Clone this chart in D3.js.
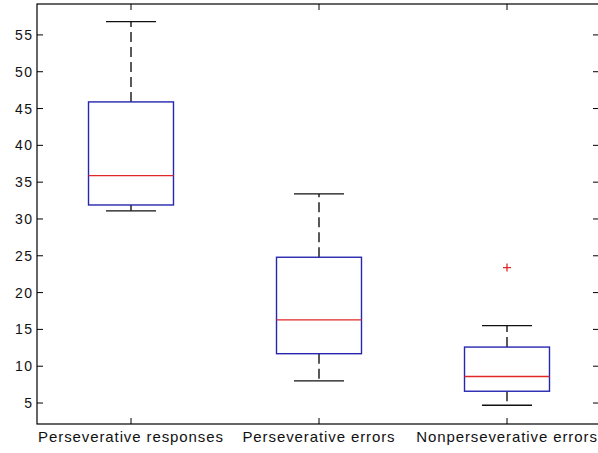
<!DOCTYPE html>
<html>
<head>
<meta charset="utf-8">
<script src="https://cdn.jsdelivr.net/npm/d3@7"></script>
<style>
  body { margin: 0; background: #fff; }
  text { font-family: "Liberation Sans", Arial, sans-serif; fill: #111; }
</style>
</head>
<body>
<svg id="vis" width="598" height="453"></svg>
<script>
// box statistics
let categories = ["Perseverative responses", "Perseverative errors", "Nonperseverative errors"];
let q1 = [31.9, 11.7, 6.6];
let medians = [35.9, 16.3, 8.6];
let q3 = [45.9, 24.8, 12.6];
let whiskerLow = [31.1, 8.0, 4.7];
let whiskerHigh = [56.8, 33.4, 15.5];
let outliers = [[], [], [23.4]];
let yTicks = [5, 10, 15, 20, 25, 30, 35, 40, 45, 50, 55];

let svg = d3.select("#vis");

let plotLeft = 37, plotRight = 601, plotTop = 4, plotBottom = 424;

let x = d3.scaleLinear()
    .domain([0.5, 3.5])
    .range([plotLeft, plotRight]);

let y = d3.scaleLinear()
    .domain([2.15, 59.2])
    .range([plotBottom, plotTop]);

let boxHalf = 0.226, capHalf = 0.133;

// frame
svg.append("rect")
    .attr("x", plotLeft).attr("y", plotTop)
    .attr("width", plotRight - plotLeft).attr("height", plotBottom - plotTop)
    .attr("fill", "none")
    .attr("stroke", "#000")
    .attr("stroke-width", 1.2);

// y ticks, left and right, pointing inward
yTicks.forEach(function (t) {
    svg.append("line")
        .attr("x1", plotLeft).attr("x2", plotLeft + 6)
        .attr("y1", y(t)).attr("y2", y(t))
        .attr("stroke", "#000");
    svg.append("line")
        .attr("x1", plotRight).attr("x2", plotRight - 8)
        .attr("y1", y(t)).attr("y2", y(t))
        .attr("stroke", "#000");
    svg.append("text")
        .attr("x", plotLeft - 3.5)
        .attr("y", y(t) + 5)
        .attr("text-anchor", "end")
        .attr("font-size", "14px")
        .attr("letter-spacing", "1.5px")
        .text(t);
});

categories.forEach(function (c, i) {
    let cx = i + 1;
    // x ticks top and bottom
    svg.append("line")
        .attr("x1", x(cx)).attr("x2", x(cx))
        .attr("y1", plotBottom).attr("y2", plotBottom - 6)
        .attr("stroke", "#000");
    svg.append("line")
        .attr("x1", x(cx)).attr("x2", x(cx))
        .attr("y1", plotTop).attr("y2", plotTop + 6)
        .attr("stroke", "#000");
    svg.append("text")
        .attr("x", x(cx))
        .attr("y", 442)
        .attr("text-anchor", "middle")
        .attr("font-size", "15px")
        .attr("letter-spacing", "0.9px")
        .text(c);

    let g = svg.append("g");

    // whiskers (dashed)
    g.append("line")
        .attr("x1", x(cx)).attr("x2", x(cx))
        .attr("y1", y(q3[i])).attr("y2", y(whiskerHigh[i]))
        .attr("stroke", "#000")
        .attr("stroke-width", 1.3)
        .attr("stroke-dasharray", "10,5");
    g.append("line")
        .attr("x1", x(cx)).attr("x2", x(cx))
        .attr("y1", y(q1[i])).attr("y2", y(whiskerLow[i]))
        .attr("stroke", "#000")
        .attr("stroke-width", 1.3)
        .attr("stroke-dasharray", "10,5");

    // caps
    [whiskerLow[i], whiskerHigh[i]].forEach(function (v) {
        g.append("line")
            .attr("x1", x(cx - capHalf)).attr("x2", x(cx + capHalf))
            .attr("y1", y(v)).attr("y2", y(v))
            .attr("stroke", "#111")
            .attr("stroke-width", 1.3);
    });

    // box
    g.append("rect")
        .attr("x", x(cx - boxHalf))
        .attr("y", y(q3[i]))
        .attr("width", x(cx + boxHalf) - x(cx - boxHalf))
        .attr("height", y(q1[i]) - y(q3[i]))
        .attr("fill", "none")
        .attr("stroke", "#2626b0")
        .attr("stroke-width", 1.4);

    // median
    g.append("line")
        .attr("x1", x(cx - boxHalf)).attr("x2", x(cx + boxHalf))
        .attr("y1", y(medians[i])).attr("y2", y(medians[i]))
        .attr("stroke", "#e02828")
        .attr("stroke-width", 1.3);

    // outliers as red plus signs
    outliers[i].forEach(function (v) {
        g.append("path")
            .attr("d", "M" + (x(cx) - 4) + "," + y(v) + "H" + (x(cx) + 4) +
                "M" + x(cx) + "," + (y(v) - 4) + "V" + (y(v) + 4))
            .attr("stroke", "#e02828")
            .attr("stroke-width", 1.3)
            .attr("fill", "none");
    });
});
</script>
</body>
</html>
